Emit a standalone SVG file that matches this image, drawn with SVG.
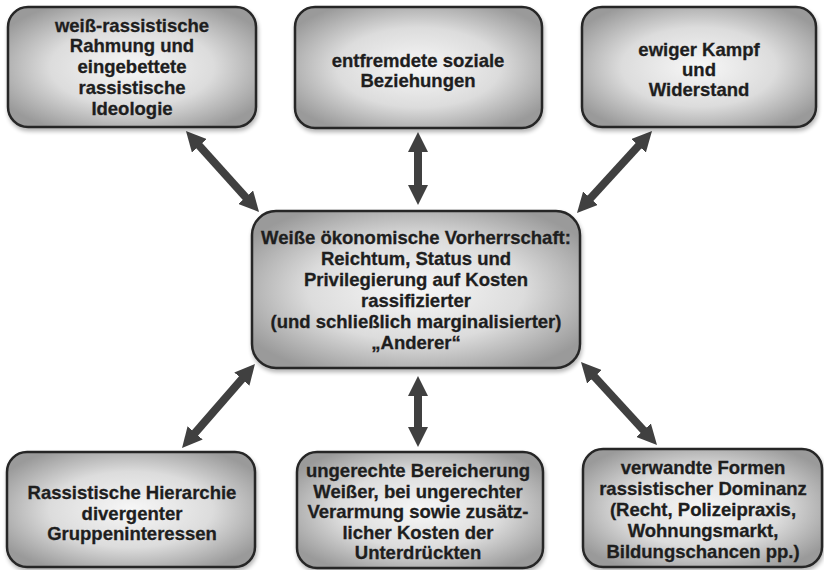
<svg xmlns="http://www.w3.org/2000/svg" width="824" height="570" viewBox="0 0 824 570">
<defs>
<radialGradient id="g" cx="0.5" cy="0.5" r="0.6">
<stop offset="0" stop-color="#f7f7f7"/>
<stop offset="0.55" stop-color="#dcdcdc"/>
<stop offset="1" stop-color="#9a9a9a"/>
</radialGradient>
<filter id="sh" x="-10%" y="-10%" width="120%" height="130%">
<feGaussianBlur in="SourceAlpha" stdDeviation="2"/>
<feOffset dx="1" dy="3" result="b"/>
<feComponentTransfer><feFuncA type="linear" slope="0.3"/></feComponentTransfer>
<feMerge><feMergeNode/><feMergeNode in="SourceGraphic"/></feMerge>
</filter>
<marker id="ah" viewBox="0 0 20 20" markerUnits="userSpaceOnUse" markerWidth="20" markerHeight="20" refX="8" refY="10" orient="auto-start-reverse">
<path d="M0,0 L20,10 L0,20 z" fill="#404040"/>
</marker>
</defs>
<style>
.box{fill:url(#g);stroke:#262626;stroke-width:2.5;filter:url(#sh)}
text{font-family:"Liberation Sans",Arial,sans-serif;font-weight:bold;font-size:18.5px;fill:#1e1e1e;stroke:#1e1e1e;stroke-width:0.3;text-anchor:middle}
.c line{stroke:#404040;stroke-width:8;marker-start:url(#ah);marker-end:url(#ah)}
</style>
<rect width="824" height="570" fill="#fff"/>
<g class="c" id="connectors">
<line x1="194" y1="139.9" x2="251" y2="203.1"/>
<line x1="418" y1="144" x2="418" y2="193"/>
<line x1="643.9" y1="139.9" x2="585.1" y2="204.1"/>
<line x1="247.1" y1="373.1" x2="189.9" y2="438.9"/>
<line x1="418" y1="388" x2="418" y2="435"/>
<line x1="589.1" y1="370.9" x2="648.9" y2="436.1"/>
</g>
<g id="n-tl">
<rect class="box" x="8" y="7" width="248" height="120" rx="20"/>
<text x="132" y="31.5">weiß-rassistische</text>
<text x="132" y="52.3">Rahmung und</text>
<text x="132" y="73.1">eingebettete</text>
<text x="132" y="93.9">rassistische</text>
<text x="132" y="114.7">Ideologie</text>
</g>
<g id="n-tm">
<rect class="box" x="295" y="7" width="247" height="121" rx="20"/>
<text x="418" y="66.5">entfremdete soziale</text>
<text x="418" y="87">Beziehungen</text>
</g>
<g id="n-tr">
<rect class="box" x="582" y="7" width="234" height="120" rx="20"/>
<text x="699" y="56">ewiger Kampf</text>
<text x="699" y="76">und</text>
<text x="699" y="96">Widerstand</text>
</g>
<g id="n-center">
<rect class="box" x="252" y="211" width="328" height="157" rx="24"/>
<text x="416" y="244">Weiße ökonomische Vorherrschaft:</text>
<text x="416" y="265">Reichtum, Status und</text>
<text x="416" y="286">Privilegierung auf Kosten</text>
<text x="416" y="307">rassifizierter</text>
<text x="416" y="328">(und schließlich marginalisierter)</text>
<text x="416" y="349">„Anderer“</text>
</g>
<g id="n-bl">
<rect class="box" x="7" y="452" width="248" height="115" rx="20"/>
<text x="132" y="499">Rassistische Hierarchie</text>
<text x="132" y="519.5">divergenter</text>
<text x="132" y="540">Gruppeninteressen</text>
</g>
<g id="n-bm">
<rect class="box" x="297" y="452" width="246" height="116" rx="20"/>
<text x="418" y="477">ungerechte Bereicherung</text>
<text x="418" y="497.5">Weißer, bei ungerechter</text>
<text x="418" y="518">Verarmung sowie zusätz-</text>
<text x="418" y="538.5">licher Kosten der</text>
<text x="418" y="559">Unterdrückten</text>
</g>
<g id="n-br">
<rect class="box" x="583" y="449" width="239" height="118" rx="20"/>
<text x="703" y="474">verwandte Formen</text>
<text x="703" y="495">rassistischer Dominanz</text>
<text x="703" y="516">(Recht, Polizeipraxis,</text>
<text x="703" y="537">Wohnungsmarkt,</text>
<text x="703" y="558">Bildungschancen pp.)</text>
</g>
</svg>
